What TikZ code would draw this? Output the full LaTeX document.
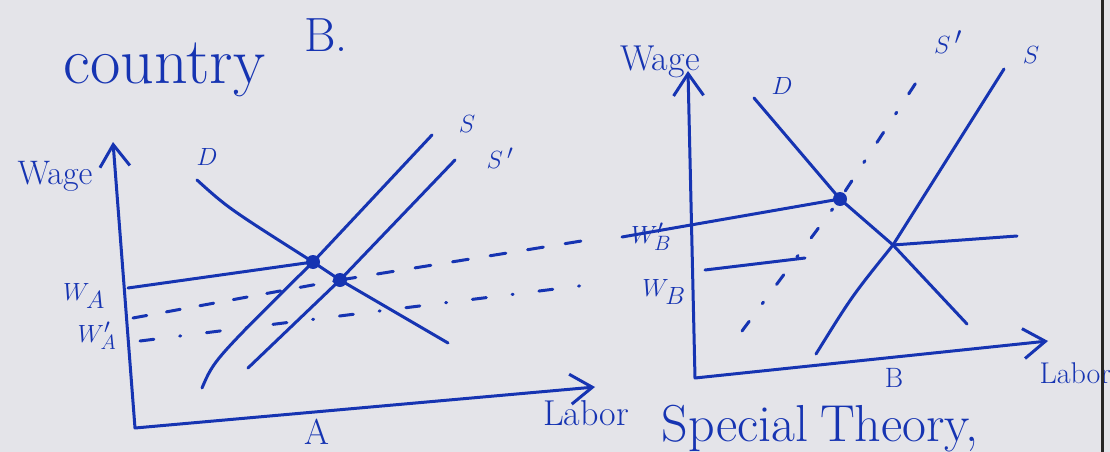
\documentclass[tikz,border=0pt]{standalone}
\usetikzlibrary{arrows.meta}
\definecolor{ink}{RGB}{22,52,178}
\definecolor{paper}{RGB}{228,228,233}
\newcommand\inksize[1]{\fontsize{#1}{#1}\selectfont}
\tikzset{every picture/.style={line width=3pt}}
\tikzset{
  curve/.style={draw=ink, line cap=round, line join=round},
  guide/.style={curve, dash pattern=on 14pt off 20pt},
  guidedot/.style={curve, dash pattern=on 14pt off 26pt on 1pt off 26pt},
  eqdot/.style={circle, fill=ink, minimum size=14pt, inner sep=0pt},
}

\begin{document}
\begin{tikzpicture}[x=1pt, y=-1pt, >={Straight Barb[length=22pt,width=30pt]},
    every node/.style={text=ink, inner sep=0pt}]
    \fill[paper] (0,0) rectangle (1110,452);
    \clip (0,0) rectangle (1110,452);

    % heading
    \node[anchor=base west] (country) at (62,83) {\inksize{66}country};
    \node[anchor=base west] (ctryB) at (303,52) {\inksize{48}B.};

    % country A
    \coordinate (yA) at (113,142);
    \coordinate (oA) at (135,428);
    \coordinate (xA) at (595,387);
    \draw[curve,<->] (yA) -- (oA) -- (xA);
    \node[eqdot] (e1A) at (313,262) {};
    \node[eqdot] (e2A) at (340,280) {};
    \coordinate (dA0) at (197,180);
    \coordinate (dA1) at (448,343);
    \coordinate (sA0) at (202,388);
    \coordinate (sA1) at (432,135);
    \coordinate (spA0) at (248,368);
    \coordinate (spA1) at (455,160);
    \draw[curve] (dA0) .. controls (228,208) .. (e1A.center) -- (e2A.center) -- (dA1);
    \draw[curve] (sA0) .. controls (214,360) .. (e1A.center) -- (sA1);
    \draw[curve] (spA0) -- (e2A.center) -- (spA1);
    \coordinate (wA) at (128,288);
    \coordinate (wAp) at (133,318);
    \coordinate (wAq) at (140,341);
    \coordinate (toWBp) at (600,238);
    \coordinate (toWB) at (595,284);
    \draw[curve] (wA) -- (e1A.center);
    \draw[guide] (wAp) -- (e2A.center);
    \draw[curve, dash pattern=on 16pt off 22pt] (e2A.center) -- (toWBp);
    \draw[guidedot] (wAq) -- (toWB);
    \node (wageA) at (55,176) {\inksize{34}Wage};
    \node (labD) at (207,157) {\inksize{32}$D$};
    \node (labS) at (467,124) {\inksize{32}$S$};
    \node (labSp) at (500,158) {\inksize{32}$S\,'$};
    \node (labWA) at (84,296) {\inksize{38}$W_A$};
    \node (labWAp) at (97,336) {\inksize{28}$W_A'$};
    \node (labA) at (317,432) {\inksize{36}A};
    \node (laborA) at (586,413) {\inksize{36}Labor};

    % country B
    \coordinate (yB) at (688,71);
    \coordinate (oB) at (695,378);
    \coordinate (xB) at (1048,341);
    \draw[curve,<->] (yB) -- (oB) -- (xB);
    \node[eqdot] (e1B) at (840,199) {};
    \coordinate (cB) at (893,245);
    \coordinate (dB0) at (754,98);
    \coordinate (dB1) at (967,324);
    \coordinate (sB0) at (816,354);
    \coordinate (sB1) at (1004,69);
    \coordinate (spB0) at (742,331);
    \coordinate (spB1) at (923,72);
    \draw[curve] (dB0) -- (e1B.center) -- (cB) .. controls (930,285) .. (dB1);
    \draw[curve] (sB0) .. controls (852,296) .. (cB) -- (sB1);
    \draw[curve, dash pattern=on 12pt off 22pt on 2pt off 22pt] (spB0) -- (e1B.center) -- (spB1);
    \coordinate (wBp) at (622,237);
    \coordinate (wB0) at (705,270);
    \coordinate (wB1) at (805,258);
    \coordinate (cBr) at (1017,236);
    \draw[curve] (wBp) -- (e1B.center);
    \draw[curve] (cB) -- (cBr);
    \draw[curve] (wB0) -- (wB1);
    \node (wageB) at (660,62) {\inksize{36}Wage};
    \node (labDB) at (782,86) {\inksize{34}$D$};
    \node (labSpB) at (948,42) {\inksize{34}$S\,'$};
    \node (labSB) at (1031,55) {\inksize{32}$S$};
    \node (labWBp) at (651,237) {\inksize{32}$W_B'$};
    \node (labWB) at (664,292) {\inksize{34}$W_B$};
    \node (labB) at (894,378) {\inksize{28}B};
    \node[anchor=base west] (laborB) at (1038,383) {\inksize{30}Labor};

    % footer
    \node[anchor=base west] (theory) at (660,441) {\inksize{52}Special\hspace{12pt}Theory,};
    \draw[black!85, line width=3pt] (1102,0) -- (1102,452);
\end{tikzpicture}
\end{document}
